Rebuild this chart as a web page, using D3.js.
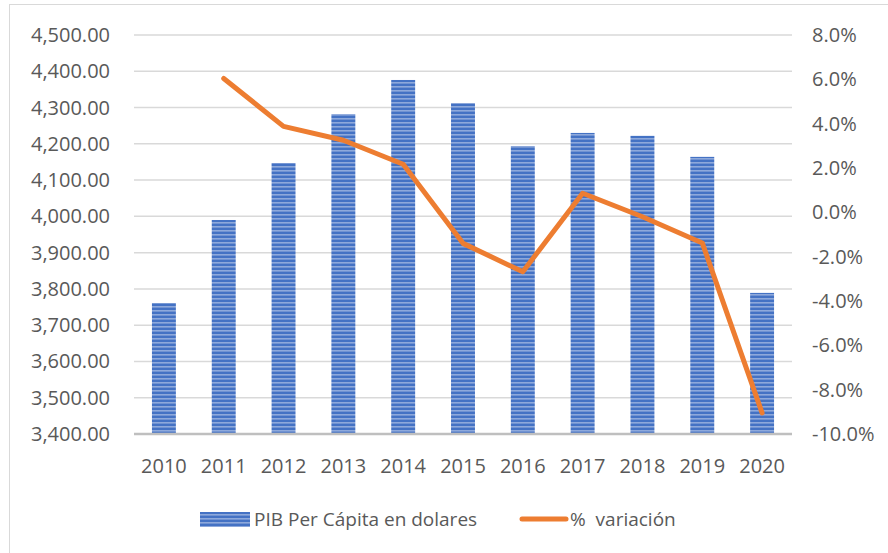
<!DOCTYPE html>
<html>
<head>
<meta charset="utf-8">
<script src="https://cdn.jsdelivr.net/npm/d3@7"></script>
<style>
  body { margin: 0; background: #fff; }
  text { font-family: "Open Sans", sans-serif; fill: #595959; }
</style>
</head>
<body>
<script>
var years = ['2010','2011','2012','2013','2014','2015','2016','2017','2018','2019','2020'];
var pibPerCapita = [3761, 3990, 4147, 4282, 4376, 4312, 4194, 4230, 4222, 4164, 3789];
var variacion = [null, 0.0604, 0.0388, 0.0325, 0.0217, -0.0140, -0.0268, 0.0086, -0.0020, -0.0138, -0.0905];
var leftTicks = [3400, 3500, 3600, 3700, 3800, 3900, 4000, 4100, 4200, 4300, 4400, 4500];
var rightTicks = [-0.10, -0.08, -0.06, -0.04, -0.02, 0, 0.02, 0.04, 0.06, 0.08];
var legendLabels = ['PIB Per Cápita en dolares', '%\u00A0 variación'];

var width = 888, height = 553;
var svg = d3.select('body').append('svg').attr('width', width).attr('height', height);

// outer frame
svg.append('rect')
    .attr('x', 9.5).attr('y', 4.5)
    .attr('width', 900).attr('height', 580)
    .attr('fill', 'none').attr('stroke', '#D9D9D9');

// stripe pattern for the bars
var pat = svg.append('defs').append('pattern')
    .attr('id', 'stripes').attr('patternUnits', 'userSpaceOnUse')
    .attr('width', 8).attr('height', 4);
pat.append('rect').attr('width', 8).attr('height', 4).attr('fill', '#4472C4');
pat.append('rect').attr('y', 2).attr('width', 8).attr('height', 1.6).attr('fill', '#8EA9DB');

var x = d3.scaleBand().domain(years).range([134, 792]).paddingInner(0.6).paddingOuter(0.3);
var y = d3.scaleLinear().domain([3400, 4500]).range([434, 35]);
var y2 = d3.scaleLinear().domain([-0.10, 0.08]).range([434, 35]);

// gridlines
svg.append('g').selectAll('line')
    .data(leftTicks.slice(1))
    .enter().append('line')
        .attr('x1', 134).attr('x2', 792)
        .attr('y1', function(d){return y(d);})
        .attr('y2', function(d){return y(d);})
        .attr('stroke', '#D9D9D9').attr('stroke-width', 1.5);

// left axis labels
var fmtLeft = d3.format(',.2f');
svg.append('g').selectAll('text')
    .data(leftTicks)
    .enter().append('text')
        .attr('x', 110)
        .attr('y', function(d){return y(d);})
        .attr('dy', '0.35em')
        .attr('text-anchor', 'end')
        .style('font-size', '20px')
        .text(function(d){return fmtLeft(d);});

// right axis labels
var fmtRight = d3.format('.1%');
svg.append('g').selectAll('text')
    .data(rightTicks)
    .enter().append('text')
        .attr('x', 812)
        .attr('y', function(d){return y2(d);})
        .attr('dy', '0.35em')
        .style('font-size', '20px')
        .text(function(d){return fmtRight(d).replace('−', '-');});

// bars
svg.append('g').selectAll('rect')
    .data(pibPerCapita)
    .enter().append('rect')
        .attr('x', function(d, i){return x(years[i]);})
        .attr('y', function(d){return y(d);})
        .attr('width', x.bandwidth())
        .attr('height', function(d){return y(3400) - y(d);})
        .attr('fill', 'url(#stripes)');

// baseline
svg.append('line')
    .attr('x1', 134).attr('x2', 792)
    .attr('y1', 434).attr('y2', 434)
    .attr('stroke', '#BFBFBF').attr('stroke-width', 2.5);

// x labels
svg.append('g').selectAll('text')
    .data(years)
    .enter().append('text')
        .attr('x', function(d){return x(d) + x.bandwidth() / 2;})
        .attr('y', 466)
        .attr('dy', '0.35em')
        .attr('text-anchor', 'middle')
        .style('font-size', '20px')
        .text(function(d){return d;});

// line
var line = d3.line()
    .defined(function(d){return d !== null;})
    .x(function(d, i){return x(years[i]) + x.bandwidth() / 2;})
    .y(function(d){return y2(d);});

svg.append('path')
    .attr('d', line(variacion))
    .attr('fill', 'none')
    .attr('stroke', '#ED7D31')
    .attr('stroke-width', 5)
    .attr('stroke-linejoin', 'round')
    .attr('stroke-linecap', 'round');

// legend
var lg = svg.append('g');
lg.append('rect').attr('x', 200).attr('y', 512).attr('width', 50).attr('height', 15).attr('fill', 'url(#stripes)');
lg.append('text').attr('x', 254).attr('y', 519).attr('dy', '0.35em').style('font-size', '19px').text(legendLabels[0]);
lg.append('line').attr('x1', 522).attr('x2', 566).attr('y1', 519).attr('y2', 519)
    .attr('stroke', '#ED7D31').attr('stroke-width', 5).attr('stroke-linecap', 'round');
lg.append('text').attr('x', 570).attr('y', 519).attr('dy', '0.35em').style('font-size', '19px').text(legendLabels[1]);
</script>
</body>
</html>
